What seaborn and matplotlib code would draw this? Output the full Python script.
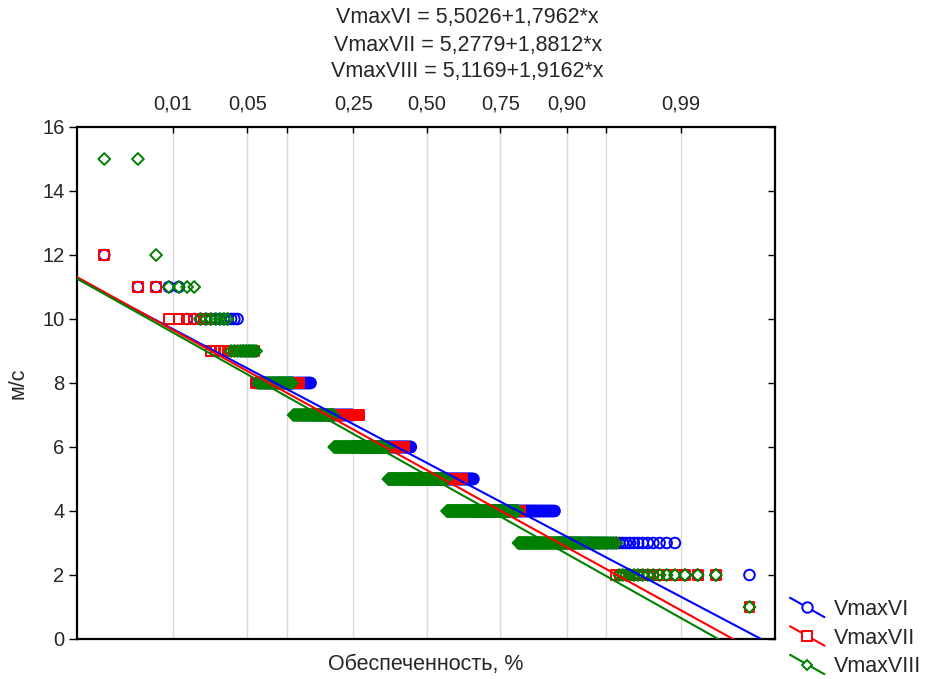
import matplotlib
matplotlib.use("Agg")
import matplotlib.pyplot as plt
import numpy as np
import pandas as pd
import seaborn as sns
from statistics import NormalDist
from matplotlib.lines import Line2D
from matplotlib.legend_handler import HandlerLine2D

# ---------------- data ----------------
values = [15, 12, 11, 10, 9, 8, 7, 6, 5, 4, 3, 2, 1]          # wind speed, m/s
counts_vi = [0, 1, 4, 12, 6, 35, 42, 78, 90, 86, 44, 4, 0]     # VmaxVI
counts_vii = [0, 1, 2, 6, 14, 26, 59, 61, 83, 72, 61, 16, 1]   # VmaxVII
counts_viii = [2, 1, 4, 7, 10, 20, 35, 66, 85, 91, 65, 15, 1]  # VmaxVIII
series_names = ["VmaxVI", "VmaxVII", "VmaxVIII"]
intercepts = [5.5026, 5.2779, 5.1169]
slopes = [1.7962, 1.8812, 1.9162]
prob_ticks = [0.01, 0.05, 0.10, 0.25, 0.50, 0.75, 0.90, 0.95, 0.99]
prob_labels = ["0,01", "0,05", "", "0,25", "0,50", "0,75", "0,90", "", "0,99"]
y_ticks = [0, 2, 4, 6, 8, 10, 12, 14, 16]

colors = ["#0000ff", "#ff0000", "#008000"]
markers = ["o", "s", "D"]
sizes = [58, 48, 36]

sns.set_theme(style="white")
plt.rcParams["font.family"] = ["Liberation Sans", "DejaVu Sans"]
FS_TICK = 14.5
FS = 15.5

nd = NormalDist()

def positions(counts):
    vals = []
    for v, c in zip(values, counts):
        vals += [v] * c
    n = len(vals)
    j = np.arange(1, n + 1)
    p = (j - 0.375) / (n + 0.25)
    q = np.array([nd.inv_cdf(pp) for pp in p])
    return pd.DataFrame({"q": q, "v": vals})

fig = plt.figure(figsize=(9.26, 6.79), dpi=100)
ax = fig.add_axes([77 / 926, 40 / 679, 698 / 926, 512 / 679])
xlim = (-3.207, 3.191)

all_counts = [counts_vi, counts_vii, counts_viii]
for name, cnt, col, mk, s in zip(series_names, all_counts, colors, markers, sizes):
    df = positions(cnt)
    sns.scatterplot(data=df, x="q", y="v", ax=ax, marker=mk, s=s,
                    facecolor="none", edgecolor=col, linewidth=1.4, zorder=2,
                    legend=False)

xs = np.linspace(xlim[0], xlim[1], 200)
for a, b, col in zip(intercepts, slopes, colors):
    sns.lineplot(x=xs, y=a - b * xs, ax=ax, color=col, lw=1.5, zorder=3,
                 legend=False)

ax.set_xlim(*xlim)
ax.set_ylim(0, 16)
qt = [nd.inv_cdf(p) for p in prob_ticks]
ax.xaxis.tick_top()
ax.set_xticks(qt)
ax.set_xticklabels(prob_labels, fontsize=FS_TICK)
ax.tick_params(axis="x", direction="in", length=4, width=1, color="black",
               pad=9.5, top=True, bottom=False)
ax.grid(axis="x", color="#d9d9d9", lw=1)
ax.grid(axis="y", visible=False)
ax.set_yticks(y_ticks)
ax.set_yticklabels([str(t) for t in y_ticks], fontsize=FS_TICK)
ax.tick_params(axis="y", direction="out", length=6, width=1, color="black",
               pad=3, left=True)
for sp in ax.spines.values():
    sp.set_color("black")
    sp.set_linewidth(1.6)

ax2 = ax.twinx()
ax2.set_ylim(0, 16)
ax2.set_yticks(y_ticks)
ax2.tick_params(axis="y", direction="in", length=5, width=1, color="black",
                labelright=False, right=True)
ax2.grid(False)
for sp in ax2.spines.values():
    sp.set_visible(False)

ax.set_xlabel("Обеспеченность, %", fontsize=FS, labelpad=11)
ax.xaxis.set_label_position("bottom")
ax.set_ylabel("м/с", fontsize=FS, labelpad=10)

titles = [f"{n} = {str(a).replace('.', ',')}+{str(b).replace('.', ',')}*x"
          for n, a, b in zip(series_names, intercepts, slopes)]
for i, t in enumerate(titles):
    fig.text(0.505, 1 - (18 + 27 * i) / 679, t, ha="center", va="center", fontsize=FS)


class DiagHandler(HandlerLine2D):
    def create_artists(self, legend, orig_handle, xdescent, ydescent,
                       width, height, fontsize, trans):
        x0 = -xdescent
        x1 = x0 + width
        yc = -ydescent + height / 2
        dy = 7.0
        ln = Line2D([x0, x1], [yc + dy, yc - dy], color=orig_handle.get_color(), lw=1.5)
        mk = Line2D([(x0 + x1) / 2], [yc], ls="none", marker=orig_handle.get_marker(),
                    ms=orig_handle.get_markersize(), mfc="white",
                    mec=orig_handle.get_color(), mew=1.4)
        ln.set_transform(trans)
        mk.set_transform(trans)
        return [ln, mk]


handles = [Line2D([], [], color=c, marker=m, ms=ms)
           for c, m, ms in zip(colors, markers, [7.5, 7, 5.5])]
fig.legend(handles, series_names, handler_map={Line2D: DiagHandler()},
           loc="center left", bbox_to_anchor=(790 / 926, 41 / 679),
           frameon=False, fontsize=FS, handlelength=1.6, handletextpad=0.45,
           labelspacing=0.35, borderpad=0, borderaxespad=0)

fig.savefig("out.png", dpi=100)
